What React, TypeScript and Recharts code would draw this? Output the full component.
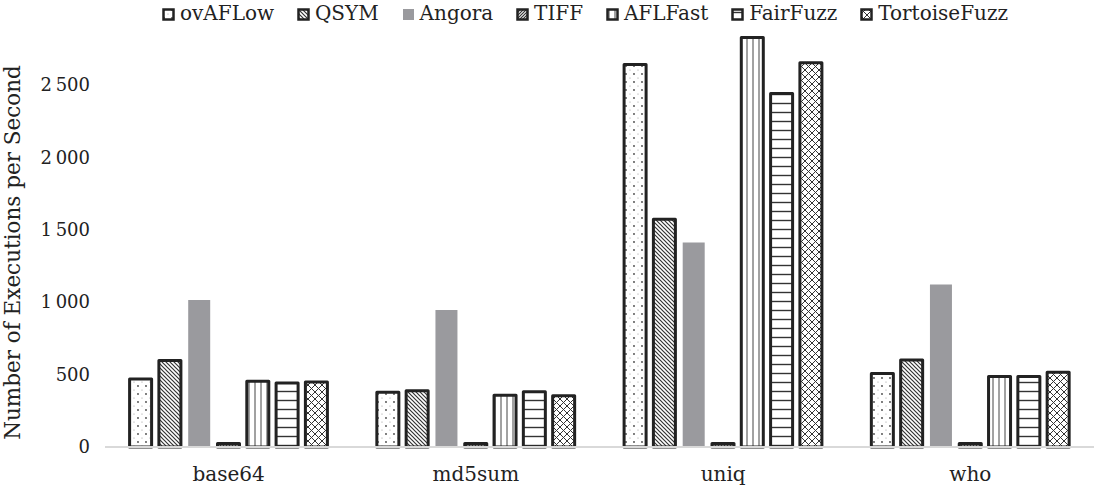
import React from 'react';
import { BarChart, Bar, XAxis, YAxis, CartesianGrid, Legend, Label } from 'recharts';

const categories = ['base64', 'md5sum', 'uniq', 'who'];
const ovAFLow = [470, 378, 2640, 507];
const qsym = [597, 388, 1571, 601];
const angora = [1015, 945, 1412, 1122];
const tiff = [25, 25, 25, 25];
const aflFast = [453, 357, 2826, 486];
const fairFuzz = [442, 381, 2440, 486];
const tortoiseFuzz = [449, 353, 2652, 516];
const yTicks = [0, 500, 1000, 1500, 2000, 2500];

const seriesNames = ['ovAFLow', 'QSYM', 'Angora', 'TIFF', 'AFLFast', 'FairFuzz', 'TortoiseFuzz'];
const seriesValues = [ovAFLow, qsym, angora, tiff, aflFast, fairFuzz, tortoiseFuzz];

const data = categories.map((name, i) => {
  const row: Record<string, string | number> = { name };
  seriesNames.forEach((s, j) => {
    row[s] = seriesValues[j][i];
  });
  return row;
});

const FONT = 'DejaVu Serif, serif';
const INK = '#222';
const GRID = '#d9d9d9';
const GRAY = '#9a9a9e';

const fills: Record<string, string> = {
  ovAFLow: 'url(#pDots)',
  QSYM: 'url(#pBack)',
  Angora: GRAY,
  TIFF: 'url(#pFwd)',
  AFLFast: 'url(#pVert)',
  FairFuzz: 'url(#pHoriz)',
  TortoiseFuzz: 'url(#pCross)',
};

function Patterns() {
  return (
    <defs>
      <pattern id="pDots" patternUnits="userSpaceOnUse" width="8" height="8">
        <rect width="8" height="8" fill="#fff" />
        <circle cx="2" cy="2" r="0.9" fill="#444" />
        <circle cx="6" cy="6" r="0.6" fill="#999" />
      </pattern>
      <pattern id="pBack" patternUnits="userSpaceOnUse" width="4" height="4">
        <rect width="4" height="4" fill="#fff" />
        <path d="M-1,-1 L5,5 M-1,3 L1,5 M3,-1 L5,1" stroke="#333" strokeWidth="1.2" />
      </pattern>
      <pattern id="pFwd" patternUnits="userSpaceOnUse" width="3" height="3">
        <rect width="3" height="3" fill="#fff" />
        <path d="M-1,4 L4,-1 M-1,1 L1,-1 M2,4 L4,2" stroke="#333" strokeWidth="1.2" />
      </pattern>
      <pattern id="pVert" patternUnits="userSpaceOnUse" width="6" height="6">
        <rect width="6" height="6" fill="#fff" />
        <line x1="3" y1="0" x2="3" y2="6" stroke="#444" strokeWidth="1" />
      </pattern>
      <pattern id="pHoriz" patternUnits="userSpaceOnUse" width="9" height="9">
        <rect width="9" height="9" fill="#fff" />
        <line x1="0" y1="4.5" x2="9" y2="4.5" stroke="#333" strokeWidth="1.4" />
      </pattern>
      <pattern id="pCross" patternUnits="userSpaceOnUse" width="7" height="7">
        <rect width="7" height="7" fill="#fff" />
        <path d="M0,0 L7,7 M7,0 L0,7" stroke="#333" strokeWidth="1" />
      </pattern>
    </defs>
  );
}

function fmtTick(v: number) {
  if (v < 1000) return String(v);
  return `${Math.floor(v / 1000)}\u2009${String(v % 1000).padStart(3, '0')}`;
}

function LegendRow() {
  return (
    <div style={{ width: 1094, height: 26 }}>
      <div
        style={{
          marginLeft: 162,
          width: 846,
          display: 'flex',
          justifyContent: 'space-between',
          alignItems: 'center',
          fontFamily: FONT,
          fontSize: 20,
          lineHeight: '26px',
          color: INK,
        }}
      >
        {seriesNames.map((s) => (
          <span key={s} style={{ display: 'flex', alignItems: 'center' }}>
            <svg width="13" height="13" style={{ marginRight: 5, marginTop: 2 }}>
              {s === 'Angora' ? (
                <rect x="1" y="1" width="11" height="11" fill={GRAY} />
              ) : (
                <rect x="1.5" y="1.5" width="10" height="10" fill={fills[s]} stroke={INK} strokeWidth="2.5" />
              )}
            </svg>
            {s}
          </span>
        ))}
      </div>
    </div>
  );
}

const gridRows = (props: any) => {
  const scale = props?.yAxis?.scale;
  if (typeof scale === 'function') return yTicks.map((t) => scale(t));
  return [];
};

export default function App() {
  return (
    <div style={{ position: 'absolute', left: 0, top: 0, width: 1094, height: 487, background: '#fff' }}>
      <BarChart
        width={1094}
        height={487}
        data={data}
        margin={{ top: 8, right: 0, bottom: 0, left: 0 }}
        barGap={7.3}
        barCategoryGap={24.6}
      >
        <Patterns />
        <CartesianGrid vertical={false} stroke={GRID} strokeWidth={2} horizontalCoordinatesGenerator={gridRows} />
        <XAxis
          dataKey="name"
          height={40}
          axisLine={{ stroke: GRID, strokeWidth: 2 }}
          tickLine={false}
          tickMargin={14}
          tick={{ fill: INK, fontFamily: FONT, fontSize: 20 }}
        />
        <YAxis
          width={105}
          domain={[0, 2850]}
          ticks={yTicks}
          tickFormatter={fmtTick}
          axisLine={false}
          tickLine={false}
          tickMargin={9}
          tick={{ fill: INK, fontFamily: FONT, fontSize: 18 }}
        >
          <Label
            value="Number of Executions per Second"
            angle={-90}
            position="insideLeft"
            offset={12}
            dy={12}
            style={{ fill: INK, fontFamily: FONT, fontSize: 21.5, textAnchor: 'middle' }}
          />
        </YAxis>
        <Legend verticalAlign="top" wrapperStyle={{ top: 0, left: 0 }} content={() => <LegendRow />} />
        {seriesNames.map((s) => (
          <Bar
            key={s}
            dataKey={s}
            fill={fills[s]}
            stroke={s === 'Angora' ? 'none' : INK}
            strokeWidth={s === 'Angora' ? 0 : 3}
            strokeLinejoin="round"
            isAnimationActive={false}
          />
        ))}
      </BarChart>
    </div>
  );
}
